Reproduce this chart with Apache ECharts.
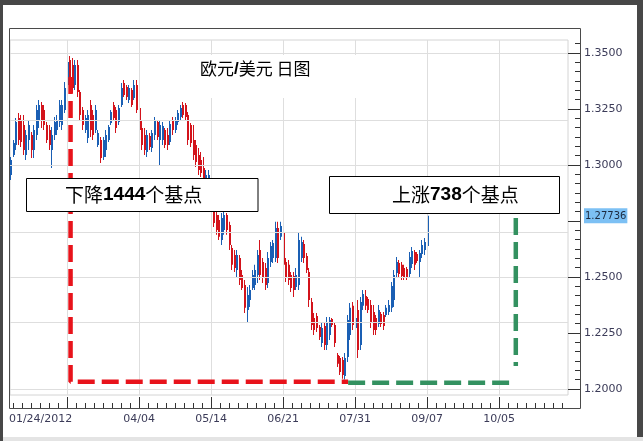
<!DOCTYPE html>
<html><head><meta charset="utf-8">
<script src="https://cdn.jsdelivr.net/npm/echarts@6/dist/echarts.min.js"></script>
<style>html,body{margin:0;padding:0;background:#474747;}#c{width:643px;height:441px;}</style>
</head><body><div id="c"></div>
<script>
// Daily EUR/USD bars, trading-day index starting at 1 (01/25/2012)
const firstIndex = 1;
const opens = [
1.2955,1.3045,1.3089,1.3210,1.3201,1.3179,1.3045,1.3111,1.3134,1.3067,
1.3134,1.3201,1.3268,1.3245,1.3179,1.3156,1.3067,1.3134,1.3156,1.3192,
1.3179,1.3245,1.3357,1.3469,1.3446,1.3357,1.3446,1.3326,1.3245,1.3156,
1.3120,1.3268,1.3223,1.3156,1.3089,1.3111,1.3036,1.3067,1.3111,1.3187,
1.3268,1.3245,1.3192,1.3268,1.3366,1.3348,1.3290,1.3335,1.3299,1.3357,
1.3254,1.3165,1.3134,1.3058,1.3129,1.3076,1.3134,1.3192,1.3111,1.3111,
1.3156,1.3134,1.3103,1.3201,1.3156,1.3192,1.3214,1.3268,1.3268,1.3223,
1.3179,1.3111,1.3089,1.3045,1.3022,1.2987,1.2906,1.2897,1.2942,1.2821,
1.2777,1.2754,1.2665,1.2710,1.2777,1.2732,1.2629,1.2598,1.2531,1.2585,
1.2509,1.2464,1.2353,1.2397,1.2451,1.2464,1.2509,1.2620,1.2567,1.2540,
1.2473,1.2567,1.2585,1.2585,1.2719,1.2679,1.2701,1.2567,1.2554,1.2509,
1.2504,1.2455,1.2464,1.2585,1.2647,1.2594,1.2522,1.2388,1.2317,1.2326,
1.2277,1.2205,1.2281,1.2196,1.2241,1.2312,1.2286,1.2152,1.2138,1.2129,
1.2058,1.2143,1.2241,1.2371,1.2272,1.2353,1.2196,1.2371,1.2415,1.2402,
1.2375,1.2344,1.2317,1.2290,1.2335,1.2330,1.2330,1.2344,1.2362,1.2397,
1.2518,1.2562,1.2554,1.2540,1.2536,1.2513,1.2558,1.2612,1.2603,1.2567,
1.2603,1.2620,1.2638];
const closes = [
1.3022,1.3098,1.3192,1.3111,1.3103,1.3067,1.3134,1.3179,1.3067,1.3156,
1.3245,1.3268,1.3201,1.3179,1.3111,1.3089,1.3134,1.3192,1.3201,1.3268,
1.3268,1.3344,1.3460,1.3379,1.3344,1.3446,1.3326,1.3223,1.3179,1.3210,
1.3223,1.3156,1.3134,1.3245,1.3143,1.3031,1.3111,1.3134,1.3170,1.3237,
1.3210,1.3165,1.3254,1.3344,1.3312,1.3303,1.3344,1.3268,1.3357,1.3245,
1.3156,1.3089,1.3067,1.3134,1.3080,1.3143,1.3201,1.3125,1.3179,1.3174,
1.3089,1.3089,1.3183,1.3156,1.3201,1.3232,1.3254,1.3223,1.3214,1.3111,
1.3098,1.3045,1.3013,1.2978,1.2964,1.2920,1.2955,1.2955,1.2821,1.2741,
1.2710,1.2679,1.2763,1.2777,1.2710,1.2643,1.2554,1.2540,1.2598,1.2487,
1.2451,1.2362,1.2420,1.2442,1.2509,1.2531,1.2598,1.2509,1.2496,1.2464,
1.2585,1.2638,1.2652,1.2719,1.2585,1.2728,1.2554,1.2496,1.2487,1.2451,
1.2442,1.2509,1.2665,1.2656,1.2585,1.2531,1.2397,1.2286,1.2263,1.2272,
1.2232,1.2272,1.2196,1.2299,1.2308,1.2286,1.2205,1.2112,1.2076,1.2062,
1.2138,1.2308,1.2362,1.2286,1.2317,1.2174,1.2388,1.2424,1.2371,1.2353,
1.2299,1.2263,1.2263,1.2353,1.2290,1.2281,1.2362,1.2375,1.2460,1.2509,
1.2567,1.2513,1.2504,1.2500,1.2496,1.2589,1.2616,1.2554,1.2571,1.2607,
1.2643,1.2656,1.27736];
const lows = [
1.2933,1.3036,1.3067,1.3089,1.3080,1.3045,1.3022,1.3067,1.3031,1.3031,
1.3111,1.3165,1.3165,1.3156,1.3098,1.3067,1.2987,1.3111,1.3134,1.3170,
1.3156,1.3232,1.3335,1.3357,1.3321,1.3335,1.3303,1.3201,1.3156,1.3143,
1.3098,1.3125,1.3111,1.3143,1.3080,1.3009,1.3022,1.3036,1.3103,1.3179,
1.3201,1.3143,1.3179,1.3259,1.3303,1.3290,1.3277,1.3259,1.3290,1.3232,
1.3134,1.3067,1.3045,1.3036,1.3067,1.3058,1.3111,1.3111,1.3000,1.3089,
1.3076,1.3067,1.3089,1.3134,1.3143,1.3179,1.3201,1.3210,1.3201,1.3089,
1.3080,1.3022,1.2991,1.2955,1.2946,1.2902,1.2897,1.2888,1.2799,1.2723,
1.2688,1.2665,1.2643,1.2688,1.2688,1.2620,1.2531,1.2522,1.2500,1.2464,
1.2442,1.2339,1.2295,1.2366,1.2442,1.2442,1.2473,1.2487,1.2473,1.2442,
1.2451,1.2545,1.2562,1.2567,1.2562,1.2665,1.2531,1.2478,1.2464,1.2433,
1.2411,1.2442,1.2442,1.2567,1.2562,1.2518,1.2366,1.2263,1.2241,1.2254,
1.2219,1.2187,1.2174,1.2174,1.2219,1.2277,1.2187,1.2098,1.2062,1.2045,
1.2042,1.2120,1.2219,1.2263,1.2254,1.2138,1.2174,1.2353,1.2353,1.2339,
1.2272,1.2241,1.2241,1.2277,1.2277,1.2263,1.2321,1.2330,1.2344,1.2366,
1.2500,1.2500,1.2487,1.2487,1.2487,1.2496,1.2540,1.2531,1.2562,1.2500,
1.2585,1.2598,1.2620];
const highs = [
1.3036,1.3111,1.3210,1.3232,1.3223,1.3223,1.3156,1.3201,1.3147,1.3179,
1.3268,1.3290,1.3281,1.3268,1.3192,1.3179,1.3170,1.3214,1.3223,1.3290,
1.3290,1.3370,1.3482,1.3487,1.3478,1.3469,1.3469,1.3335,1.3259,1.3223,
1.3245,1.3290,1.3245,1.3268,1.3156,1.3125,1.3125,1.3156,1.3179,1.3245,
1.3281,1.3259,1.3268,1.3366,1.3379,1.3357,1.3357,1.3344,1.3379,1.3379,
1.3277,1.3201,1.3165,1.3156,1.3143,1.3156,1.3214,1.3201,1.3201,1.3192,
1.3165,1.3165,1.3201,1.3214,1.3214,1.3245,1.3268,1.3281,1.3277,1.3237,
1.3187,1.3179,1.3111,1.3076,1.3058,1.3036,1.2978,1.2978,1.2946,1.2844,
1.2790,1.2777,1.2786,1.2790,1.2786,1.2746,1.2643,1.2620,1.2620,1.2598,
1.2531,1.2487,1.2455,1.2464,1.2531,1.2554,1.2620,1.2665,1.2585,1.2562,
1.2612,1.2656,1.2665,1.2746,1.2746,1.2746,1.2710,1.2585,1.2576,1.2522,
1.2522,1.2540,1.2696,1.2679,1.2665,1.2607,1.2540,1.2406,1.2339,1.2339,
1.2286,1.2295,1.2295,1.2321,1.2321,1.2317,1.2299,1.2161,1.2147,1.2143,
1.2161,1.2330,1.2384,1.2388,1.2339,1.2397,1.2411,1.2442,1.2442,1.2411,
1.2397,1.2375,1.2330,1.2375,1.2344,1.2344,1.2375,1.2397,1.2478,1.2531,
1.2589,1.2576,1.2567,1.2554,1.2545,1.2612,1.2634,1.2620,1.2612,1.2620,
1.2665,1.2674,1.2781];

// x-axis labels (index positions of trading days)
const xTickLabels = ['01/24/2012', '04/04', '05/14', '06/21', '07/31', '09/07', '10/05'];
const xTickLabelPos = [12.7, 51, 79, 107, 135, 163, 191];
const xMajorTicks = [23, 51, 79, 107, 135, 163, 191];
const yMajorTicks = [1.2, 1.225, 1.25, 1.275, 1.3, 1.325, 1.35];
const yTickLabels = [1.2, 1.225, 1.25, 1.3, 1.325, 1.35];

// annotation paths: [index, price]
const redDash = [[24.35, 1.3393], [24.35, 1.2032], [132.3, 1.2032]];
const greenDash = [[132.3, 1.2028], [194.9, 1.2028]];
const greenVert = [[197.5, 1.2763], [197.5, 1.2103]];

const X_MIN = 0.8, X_MAX = 217.8, Y_MIN = 1.1973, Y_MAX = 1.3558;
const UP = '#1a5fb4', DOWN = '#d3131b';
const lastClose = closes[closes.length - 1];

const bars = opens.map((o, k) => [k + firstIndex, o, closes[k], lows[k], highs[k]]);

const xMinor = [];
for (let k = -6; k <= 56; k++) { if (k % 8 !== 0) { const v = 23 + k * 3.5; if (v > X_MIN && v < X_MAX) xMinor.push(v); } }
const yMinor = [];
for (let k = 0; k <= 37; k++) { if (k % 6 !== 0) yMinor.push(+(1.2 + k * 0.025 / 6).toFixed(6)); }

const chart = echarts.init(document.getElementById('c'));
const axisTxt = '#3b3b58';
chart.setOption({
  animation: false,
  backgroundColor: '#474747',
  grid: { left: 10, right: 75, top: 40, bottom: 46, show: true, borderColor: '#d4d4d4', borderWidth: 1 },
  xAxis: [
    { type: 'value', min: X_MIN, max: X_MAX, position: 'bottom', offset: 13,
      axisLine: { show: false }, splitLine: { show: false },
      axisTick: { show: true, inside: true, length: 11, lineStyle: { color: '#333' }, customValues: xMajorTicks },
      axisLabel: { show: true, customValues: xTickLabelPos, margin: 6, fontSize: 11, fontFamily: 'DejaVu Sans', color: axisTxt,
        formatter: v => { const k = xTickLabelPos.findIndex(p => Math.abs(p - v) < 1e-6); return k >= 0 ? xTickLabels[k] : ''; } } },
    { type: 'value', min: X_MIN, max: X_MAX, position: 'bottom', offset: 13,
      axisLine: { show: false }, splitLine: { show: false }, axisLabel: { show: false },
      axisTick: { show: true, inside: true, length: 5, lineStyle: { color: '#333' }, customValues: xMinor } }
  ],
  yAxis: [
    { type: 'value', min: Y_MIN, max: Y_MAX, position: 'right', offset: 12,
      axisLine: { show: false }, splitLine: { show: false },
      axisTick: { show: true, inside: true, length: 12, lineStyle: { color: '#333' }, customValues: yMajorTicks },
      axisLabel: { show: true, customValues: yTickLabels.concat([lastClose]), margin: 4, fontSize: 11, fontFamily: 'DejaVu Sans', color: axisTxt,
        formatter: v => Math.abs(v - lastClose) < 1e-7 ? '{hl|' + lastClose.toFixed(5) + '}' : v.toFixed(4),
        rich: { hl: { backgroundColor: '#7cc0f4', color: '#1d2a40', fontSize: 10, fontFamily: 'DejaVu Sans', padding: [3, 1, 2, 1] } } } },
    { type: 'value', min: Y_MIN, max: Y_MAX, position: 'right', offset: 12,
      axisLine: { show: false }, splitLine: { show: false }, axisLabel: { show: false },
      axisTick: { show: true, inside: true, length: 5, lineStyle: { color: '#333' }, customValues: yMinor } }
  ],
  graphic: [
    { type: 'rect', z: -10, shape: { x: 3, y: 5, width: 634, height: 432 }, style: { fill: '#ffffff' } },
    { type: 'rect', z: -10, shape: { x: 3, y: 437, width: 640, height: 4 }, style: { fill: '#e4e4e4' } },
    { type: 'rect', z: 50, shape: { x: 9.5, y: 28.5, width: 571, height: 380 }, style: { fill: 'none', stroke: '#4a4a4a', lineWidth: 1 } },
    { type: 'rect', z: 50, shape: { x: 145, y: 55, width: 220, height: 43 }, style: { fill: '#ffffff' } },
    { type: 'text', z: 60, x: 200, y: 69, style: { text: '{a|欧元}{b|/}{a|美元 日图}', verticalAlign: 'middle',
        rich: { a: { fontSize: 17, fontFamily: 'Noto Sans CJK SC', fill: '#000' }, b: { fontSize: 17, fontWeight: 'bold', fontFamily: 'Liberation Sans', fill: '#000' } } } },
    { type: 'rect', z: 100, shape: { x: 26.5, y: 178.5, width: 231.5, height: 33 }, style: { fill: '#ffffff', stroke: '#000', lineWidth: 1 } },
    { type: 'text', z: 110, x: 65, y: 195, style: { text: '{a|下降}{b|1444}{a|个基点}', verticalAlign: 'middle',
        rich: { a: { fontSize: 19, fontFamily: 'Noto Sans CJK SC', fill: '#000' }, b: { fontSize: 19, fontWeight: 'bold', fontFamily: 'Liberation Sans', fill: '#000' } } } },
    { type: 'rect', z: 100, shape: { x: 329.5, y: 176.5, width: 230, height: 37 }, style: { fill: '#ffffff', stroke: '#000', lineWidth: 1 } },
    { type: 'text', z: 110, x: 392, y: 195, style: { text: '{a|上涨}{b|738}{a|个基点}', verticalAlign: 'middle',
        rich: { a: { fontSize: 19, fontFamily: 'Noto Sans CJK SC', fill: '#000' }, b: { fontSize: 19, fontWeight: 'bold', fontFamily: 'Liberation Sans', fill: '#000' } } } }
  ],
  series: [
    { type: 'line', data: [], z: 1, silent: true,
      markLine: { silent: true, symbol: ['none', 'none'], label: { show: false }, animation: false,
        lineStyle: { color: '#dedede', width: 1, type: 'solid' },
        data: xMajorTicks.map(v => ({ xAxis: v })).concat(yMajorTicks.map(v => ({ yAxis: v }))) } },
    { type: 'custom', z: 3, data: bars, silent: true,
      renderItem: (params, api) => {
        const i = api.value(0), o = api.value(1), c = api.value(2), l = api.value(3), h = api.value(4);
        const pO = api.coord([i, o]), pC = api.coord([i, c]), pL = api.coord([i, l]), pH = api.coord([i, h]);
        const x = Math.floor(pO[0]);
        const color = c >= o ? UP : DOWN;
        const top = Math.min(pO[1], pC[1]), bot = Math.max(pO[1], pC[1]);
        return { type: 'group', children: [
          { type: 'rect', shape: { x: x, y: pH[1], width: 1, height: Math.max(1, pL[1] - pH[1]) }, style: { fill: color } },
          { type: 'rect', shape: { x: x, y: top, width: 2, height: Math.max(1, bot - top) }, style: { fill: color } }
        ] };
      } },
    { type: 'line', z: 5, data: redDash, symbol: 'none', silent: true, lineStyle: { color: '#e8131b', width: 4.5, type: [17, 7] } },
    { type: 'line', z: 5, data: greenDash, symbol: 'none', silent: true, lineStyle: { color: '#339160', width: 4.5, type: [17, 7] } },
    { type: 'line', z: 5, data: greenVert, symbol: 'none', silent: true, lineStyle: { color: '#339160', width: 4.5, type: [17, 7] } }
  ]
});
</script></body></html>
